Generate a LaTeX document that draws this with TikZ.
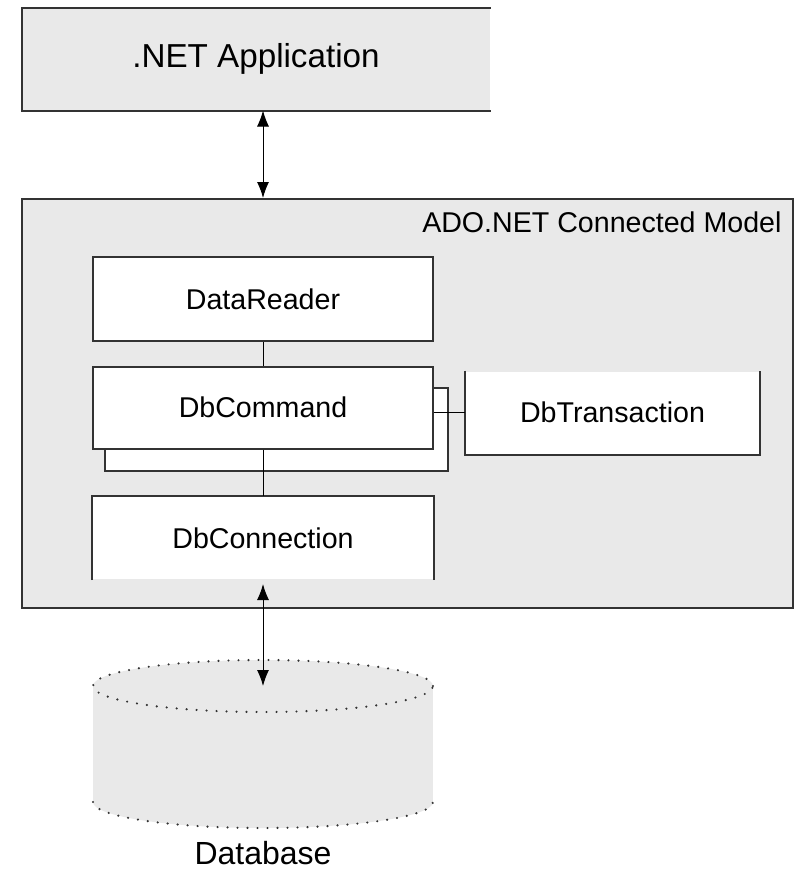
\documentclass[tikz,border=0pt]{standalone}
\usepackage{fontspec}
\setmainfont{Liberation Sans}
\usetikzlibrary{arrows.meta}
\definecolor{panelgray}{HTML}{E9E9E9}
\definecolor{edgegray}{HTML}{333333}

\begin{document}
\begin{tikzpicture}[x=0.5pt,y=-0.5pt,<->,>={Latex[length=8pt,width=6pt]},line width=0.5pt,inner sep=0pt]
\tikzstyle{box}=[rectangle,fill=white,draw=edgegray,line width=1pt,minimum width=170pt,minimum height=41pt,font=\fontsize{14.3}{17}\selectfont]
\tikzstyle{panel}=[rectangle,fill=panelgray,minimum width=234pt,minimum height=51pt]
\tikzstyle{rim}=[-,draw=edgegray,line width=1pt]
\tikzstyle{dots}=[-,draw=edgegray,line width=1.2pt,line cap=round,dash pattern=on 0pt off 5pt]
\useasboundingbox (0,0) rectangle (800,873);
\node[panel,font=\fontsize{16.6}{19}\selectfont] (app) at (256,59) {.NET Application};
\node[panel,draw=edgegray,line width=1pt,minimum width=385.5pt,minimum height=204.5pt] (model) at (407.5,403.5) {};
\node[anchor=east,font=\fontsize{14.3}{17}\selectfont] (modeltitle) at (782,222) {ADO.NET Connected Model};
\node[box,minimum width=171.5pt,minimum height=41.5pt] (cmdback) at (276.5,429.5) {};
\node[box,minimum height=42pt] (reader) at (263,299) {DataReader};
\node[box] (command) at (263,407.5) {DbCommand};
\node[box,draw=none,minimum width=146.5pt] (transaction) at (612.5,412.5) {DbTransaction};
\node[box,draw=none] (connection) at (263,538) {DbConnection};
\coordinate (dbtop) at (263,686);
\coordinate (dbbottom) at (263,802);
\node[font=\fontsize{16}{19}\selectfont] (dbname) at (263,853) {Database};
% open sides
\draw[rim] (app.north east) -- (app.north west) -- (app.south west) -- (app.south east);
\draw[rim] (transaction.north west) -- (transaction.south west) -- (transaction.south east) -- (transaction.north east);
\draw[rim] (connection.south west) -- (connection.north west) -- (connection.north east) -- (connection.south east);
% database
\fill[panelgray] (dbtop) ellipse (85pt and 13pt);
\fill[panelgray] (dbbottom) ellipse (85pt and 13pt);
\fill[panelgray] ([xshift=-85pt]dbtop) rectangle ([xshift=85pt]dbbottom);
\draw[dots] (dbtop) ellipse (85pt and 13pt);
\draw[dots] ([xshift=-85pt]dbbottom) arc[start angle=180,end angle=360,x radius=85pt,y radius=13pt];
% links
\draw[-] (reader) -- (command);
\draw[-] (command) -- (connection);
\draw[-] (command.east |- transaction.west) -- (transaction.west);
\draw (app.south -| reader) -- (model.north -| reader);
\draw[shorten <=2pt] (connection.south) -- (dbtop);
\end{tikzpicture}
\end{document}
